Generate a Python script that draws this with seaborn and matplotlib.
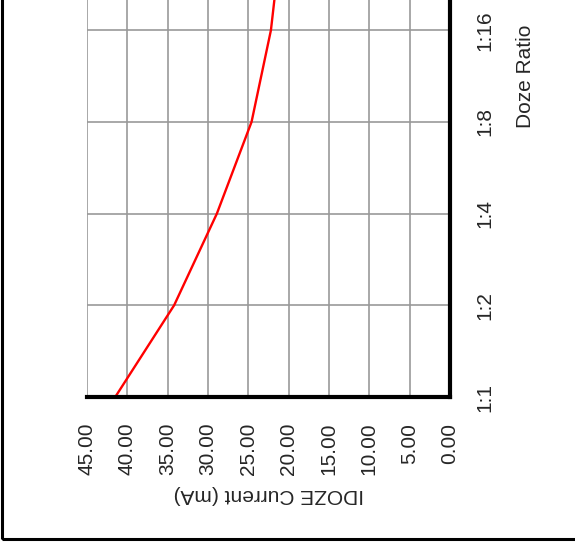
import matplotlib
matplotlib.use("Agg")
import matplotlib.pyplot as plt
import seaborn as sns
from matplotlib.patches import Rectangle

doze_ratio = ["1:1", "1:2", "1:4", "1:8", "1:16", "1:32", "1:64", "1:128"]
measured_ratio = ["1:1", "1:2", "1:4", "1:8", "1:16", "1:32"]
idoze_ma = [41.5, 34.2, 28.9, 24.6, 22.2, 20.9]
current_ticks = [45, 40, 35, 30, 25, 20, 15, 10, 5, 0]

sns.set_style("white")
plt.rcParams["font.family"] = ["Liberation Sans", "DejaVu Sans"]

pos = [doze_ratio.index(r) for r in measured_ratio]

fig = plt.figure(figsize=(5.75, 5.51), dpi=100)
# only the lower part of the chart is visible: the axes stops at the top edge
ax = fig.add_axes([87 / 575, 154 / 551, 363 / 575, 397 / 551])
top = 397 / 91.7

sns.lineplot(x=idoze_ma, y=pos, orient="y", color="red", linewidth=1.7, ax=ax)

ax.set_xticks(current_ticks)
ax.set_xticklabels([f"{v:.2f}" for v in current_ticks], rotation=90, fontsize=15)
ax.set_yticks(range(len(doze_ratio)))
ax.set_yticklabels(doze_ratio, rotation=90, fontsize=15, va="center")
ax.set_xlim(45, 0)
ax.set_ylim(0, top)
ax.yaxis.tick_right()
ax.yaxis.set_label_position("right")
ax.tick_params(axis="both", length=0, pad=18.5)

ax.grid(True, color="#999999", linewidth=1.2)
ax.set_axisbelow(True)
for side in ["left", "top"]:
    ax.spines[side].set_visible(False)
for side in ["bottom", "right"]:
    ax.spines[side].set_color("black")
    ax.spines[side].set_linewidth(3)
    ax.spines[side].set_zorder(5)

ax.set_xlabel("IDOZE Current (mA)", fontsize=15, rotation=180, labelpad=7)
ax.set_ylabel("Doze Ratio", fontsize=15, rotation=90)
# label sits at the middle of the full ratio axis (1:1 .. 1:128)
ax.yaxis.set_label_coords(1 + 66 / 363, ((len(doze_ratio) - 1) / 2) / top)

# outer frame of the page (only left and bottom edges fall inside the picture)
fig.add_artist(Rectangle((1.5 / 575, 12 / 551), 1.2, 1.2, transform=fig.transFigure,
                         fill=False, edgecolor="black", linewidth=2.2, clip_on=False))

fig.savefig("out.png", dpi=100)
